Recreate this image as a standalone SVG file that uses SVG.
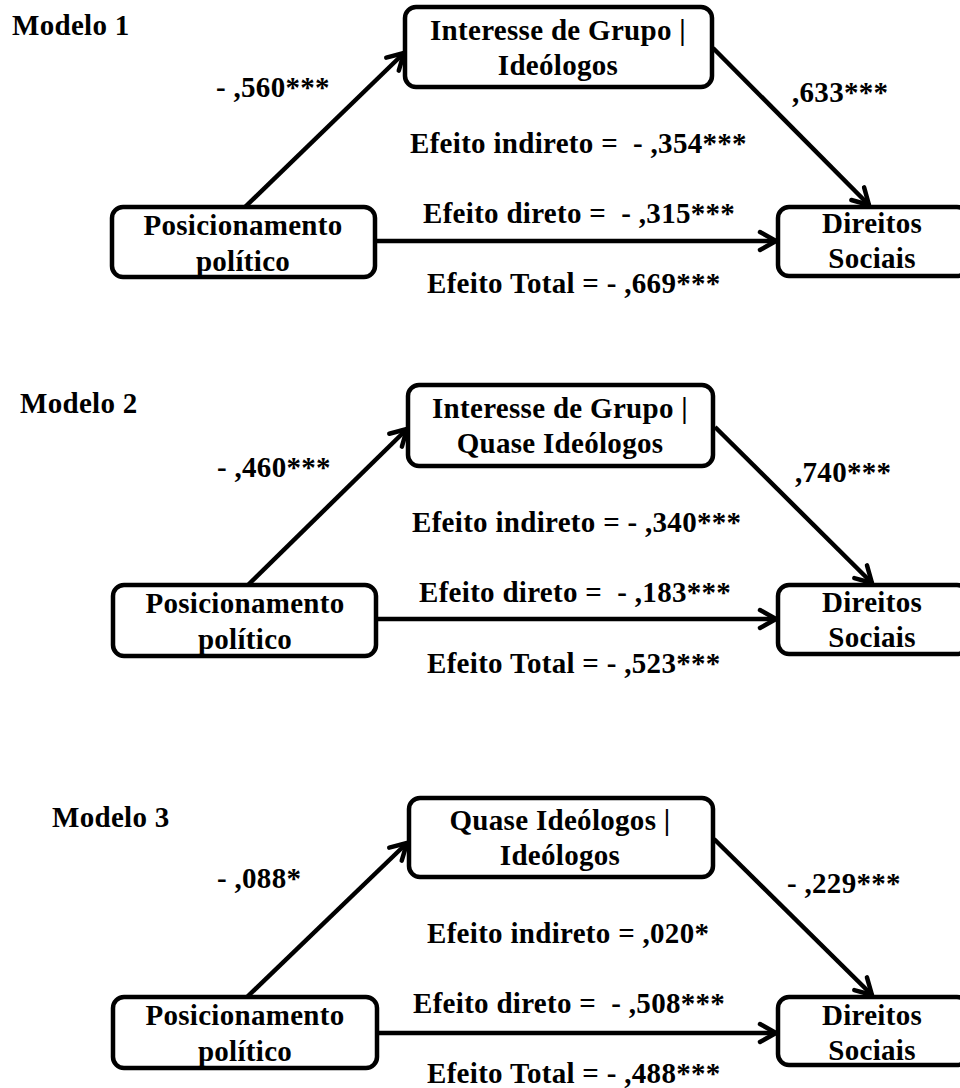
<svg xmlns="http://www.w3.org/2000/svg" width="960" height="1088" viewBox="0 0 960 1088">
  <defs>
    <style>
      .box { fill: #ffffff; stroke: #000000; stroke-width: 4.5; }
      .edge { fill: none; stroke: #000000; stroke-width: 4.5; }
      text { font-family: "Liberation Serif", "Times New Roman", serif; font-weight: bold; font-size: 29px; letter-spacing: 0.3px; fill: #000000; white-space: pre; }
      .c { text-anchor: middle; }
    </style>
    <marker id="arrow" markerUnits="userSpaceOnUse" markerWidth="26" markerHeight="26" viewBox="0 0 26 26" refX="21" refY="13" orient="auto">
      <path d="M5,4 L21,13 L5,22" fill="none" stroke="#000000" stroke-width="4.5" stroke-linecap="round" stroke-linejoin="round"/>
    </marker>
  </defs>
  <rect width="960" height="1088" fill="#ffffff"/>

  <!-- Modelo 1 -->
  <g id="modelo1">
    <text x="12" y="35">Modelo 1</text>
    <g id="m1-connectors">
      <line class="edge" x1="245" y1="207" x2="404" y2="53" marker-end="url(#arrow)"/>
      <line class="edge" x1="713" y1="48" x2="869" y2="205" marker-end="url(#arrow)"/>
      <line class="edge" x1="375" y1="241" x2="776" y2="241" marker-end="url(#arrow)"/>
    </g>
    <g id="m1-posicionamento">
      <rect class="box" x="112" y="207" width="263" height="70" rx="11"/>
      <text class="c" x="243" y="235">Posicionamento</text>
      <text class="c" x="243" y="271">político</text>
    </g>
    <g id="m1-mediador">
      <rect class="box" x="405" y="7" width="307" height="80" rx="11"/>
      <text class="c" x="558" y="40">Interesse de Grupo |</text>
      <text class="c" x="558" y="75">Ideólogos</text>
    </g>
    <g id="m1-direitos">
      <rect class="box" x="778" y="207" width="190" height="69" rx="11"/>
      <text class="c" x="872" y="233">Direitos</text>
      <text class="c" x="872" y="268">Sociais</text>
    </g>
    <g id="m1-labels">
      <text x="216" y="97">- ,560***</text>
      <text x="792" y="102">,633***</text>
      <text x="410" y="153">Efeito indireto =  - ,354***</text>
      <text x="423" y="223">Efeito direto =  - ,315***</text>
      <text x="427" y="293">Efeito Total = - ,669***</text>
    </g>
  </g>

  <!-- Modelo 2 -->
  <g id="modelo2">
    <text x="20" y="413">Modelo 2</text>
    <g id="m2-connectors">
      <line class="edge" x1="248" y1="585" x2="407" y2="429" marker-end="url(#arrow)"/>
      <line class="edge" x1="715" y1="427" x2="872" y2="583" marker-end="url(#arrow)"/>
      <line class="edge" x1="376" y1="619" x2="776" y2="619" marker-end="url(#arrow)"/>
    </g>
    <g id="m2-posicionamento">
      <rect class="box" x="113" y="585" width="263" height="71" rx="11"/>
      <text class="c" x="245" y="613">Posicionamento</text>
      <text class="c" x="245" y="649">político</text>
    </g>
    <g id="m2-mediador">
      <rect class="box" x="408" y="385" width="305" height="81" rx="11"/>
      <text class="c" x="560" y="418">Interesse de Grupo |</text>
      <text class="c" x="560" y="453">Quase Ideólogos</text>
    </g>
    <g id="m2-direitos">
      <rect class="box" x="778" y="585" width="190" height="69" rx="11"/>
      <text class="c" x="872" y="612">Direitos</text>
      <text class="c" x="872" y="647">Sociais</text>
    </g>
    <g id="m2-labels">
      <text x="217" y="477">- ,460***</text>
      <text x="795" y="482">,740***</text>
      <text x="412" y="532">Efeito indireto = - ,340***</text>
      <text x="419" y="602">Efeito direto =  - ,183***</text>
      <text x="427" y="673">Efeito Total = - ,523***</text>
    </g>
  </g>

  <!-- Modelo 3 -->
  <g id="modelo3">
    <text x="52" y="827">Modelo 3</text>
    <g id="m3-connectors">
      <line class="edge" x1="247" y1="997" x2="407" y2="843" marker-end="url(#arrow)"/>
      <line class="edge" x1="714" y1="839" x2="872" y2="995" marker-end="url(#arrow)"/>
      <line class="edge" x1="377" y1="1033" x2="776" y2="1033" marker-end="url(#arrow)"/>
    </g>
    <g id="m3-posicionamento">
      <rect class="box" x="113" y="997" width="264" height="71" rx="11"/>
      <text class="c" x="245" y="1025">Posicionamento</text>
      <text class="c" x="245" y="1061">político</text>
    </g>
    <g id="m3-mediador">
      <rect class="box" x="409" y="798" width="304" height="79" rx="11"/>
      <text class="c" x="560" y="830">Quase Ideólogos |</text>
      <text class="c" x="560" y="865">Ideólogos</text>
    </g>
    <g id="m3-direitos">
      <rect class="box" x="778" y="997" width="190" height="68" rx="11"/>
      <text class="c" x="872" y="1025">Direitos</text>
      <text class="c" x="872" y="1060">Sociais</text>
    </g>
    <g id="m3-labels">
      <text x="217" y="888">- ,088*</text>
      <text x="787" y="893">- ,229***</text>
      <text x="427" y="943">Efeito indireto = ,020*</text>
      <text x="413" y="1013">Efeito direto =  - ,508***</text>
      <text x="427" y="1083">Efeito Total = - ,488***</text>
    </g>
  </g>
</svg>
